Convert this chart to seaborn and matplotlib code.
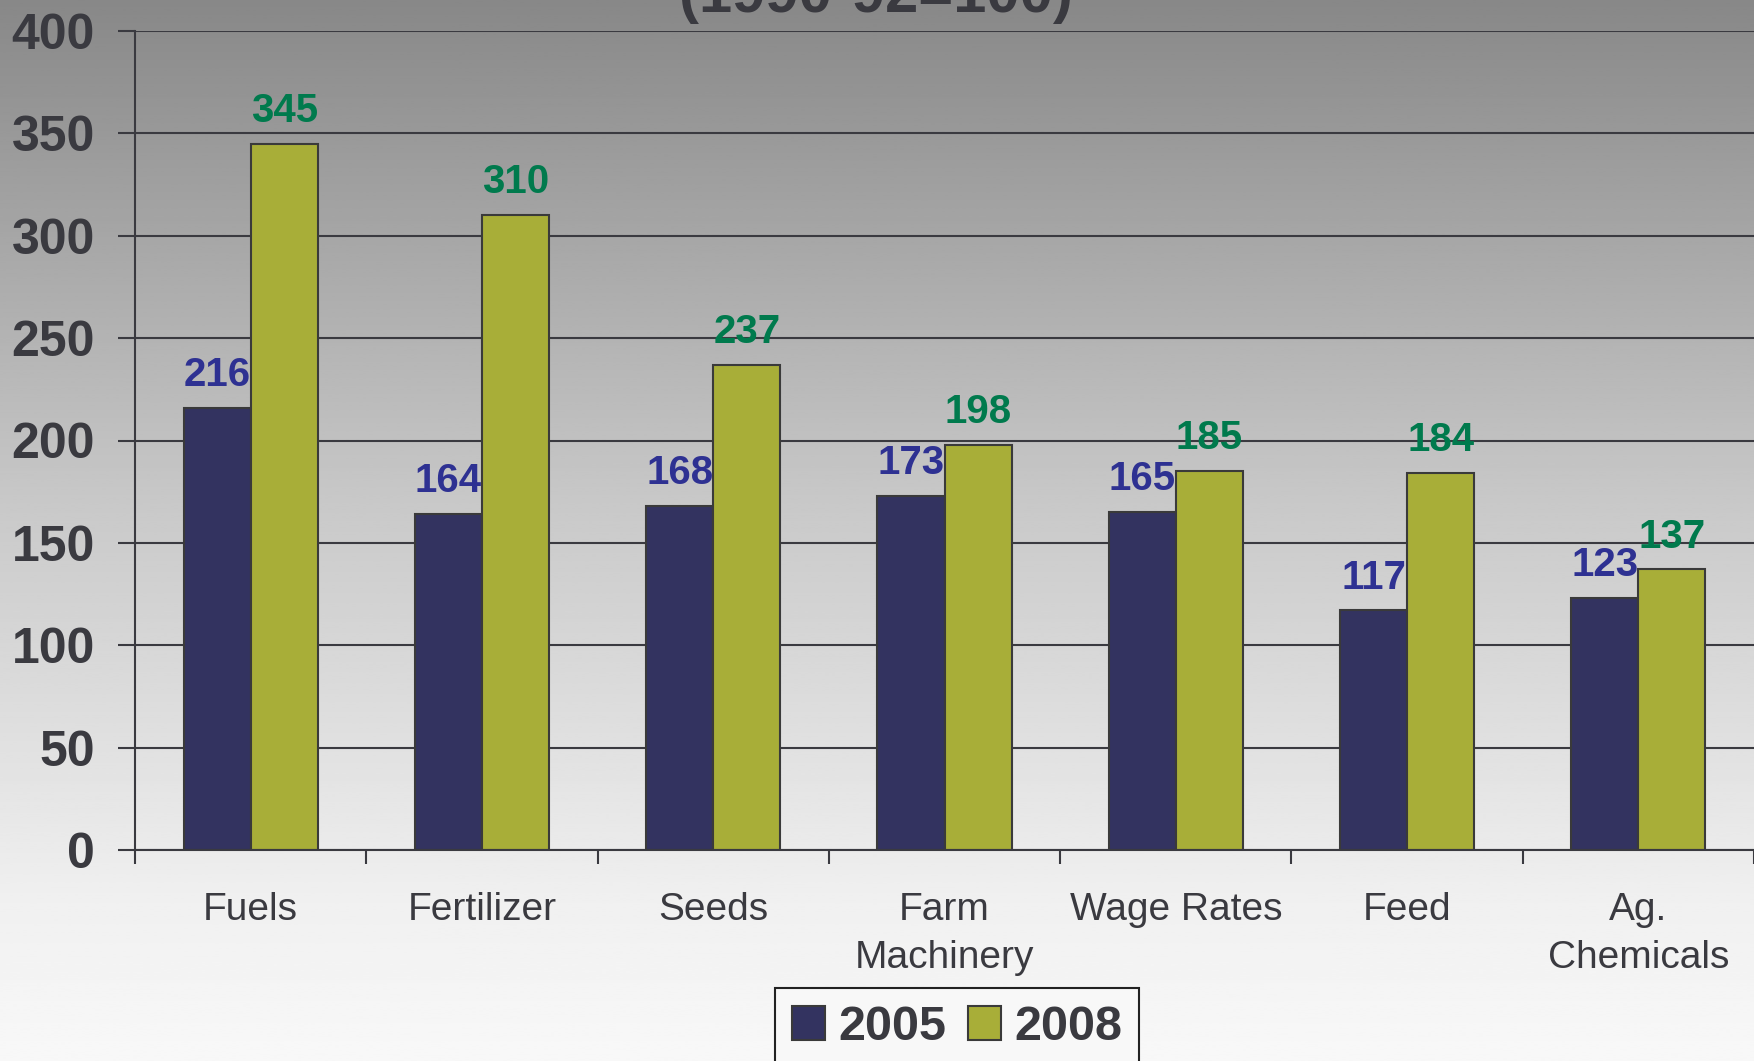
import numpy as np
import pandas as pd
import matplotlib
matplotlib.use("Agg")
import matplotlib.pyplot as plt
import seaborn as sns

categories = ["Fuels", "Fertilizer", "Seeds", "Farm\nMachinery", "Wage Rates", "Feed", "Ag.\nChemicals"]
years = ["2005", "2008"]
values_2005 = [216, 164, 168, 173, 165, 117, 123]
values_2008 = [345, 310, 237, 198, 185, 184, 137]

df = pd.DataFrame({
    "Category": categories * 2,
    "Year": [years[0]] * len(categories) + [years[1]] * len(categories),
    "Index": values_2005 + values_2008,
})

sns.set_style("white")
plt.rcParams["font.family"] = ["Liberation Sans", "DejaVu Sans"]
text_col = "#3a3a40"

fig = plt.figure(figsize=(17.54, 10.61), dpi=100)

# vertical gray gradient background
bg = fig.add_axes([0, 0, 1, 1], zorder=-10)
ys = np.linspace(0, 1, 400)
shade = np.interp(ys, [0, 0.47, 0.85, 1.0], [136, 200, 240, 248]) / 255
bg.imshow(np.repeat(shade[:, None], 2, axis=1), cmap="gray", vmin=0, vmax=1,
          aspect="auto", extent=[0, 1, 1, 0])
bg.axis("off")

ax = fig.add_axes([135 / 1754, 1 - 850 / 1061, 1 - 135 / 1754, (850 - 31) / 1061])
ax.patch.set_alpha(0)

pal = {"2005": "#333360", "2008": "#a8ae38"}
sns.barplot(data=df, x="Category", y="Index", hue="Year", palette=pal, ax=ax,
            width=0.58, gap=0, edgecolor="#3a3a3a", linewidth=1.5, saturation=1)

label_cols = ["#2e3192", "#007a4d"]
for cont, c in zip(ax.containers, label_cols):
    ax.bar_label(cont, fmt="%d", padding=10, color=c, fontsize=29, fontweight="bold")

ax.set_ylim(0, 400)
ax.set_xlim(-0.5, len(categories) - 0.5)
ax.set_yticks(range(0, 401, 50))
ax.yaxis.grid(True, color=text_col, linewidth=1.5)
ax.set_axisbelow(True)
ax.set_xlabel("")
ax.set_ylabel("")
for s in ["top", "right"]:
    ax.spines[s].set_visible(False)
for s in ["left", "bottom"]:
    ax.spines[s].set_color(text_col)
    ax.spines[s].set_linewidth(1.5)

ax.tick_params(axis="y", which="major", length=12, width=1.5, color=text_col, pad=17,
               labelsize=36, labelcolor=text_col, left=True)
for t in ax.get_yticklabels():
    t.set_fontweight("bold")
ax.set_xticks(np.arange(-0.5, len(categories), 1), minor=True)
ax.tick_params(axis="x", which="minor", length=10, width=1.5, color=text_col, direction="out", bottom=True)
ax.tick_params(axis="x", which="major", length=0, pad=30, labelsize=28, labelcolor=text_col)
for t in ax.get_xticklabels():
    t.set_linespacing(1.45)

handles, labels = ax.get_legend_handles_labels()
ax.legend_.remove()
leg = fig.legend(handles, labels, loc="upper center", bbox_to_anchor=(957 / 1754, 1 - 988 / 1061),
                 ncol=2, prop={"weight": "bold", "size": 35}, frameon=True, fancybox=False,
                 handlelength=0.68, handleheight=0.72, handletextpad=0.27, columnspacing=0.45,
                 borderpad=0.35, borderaxespad=0, facecolor="#f8f8f8", edgecolor="#222222", framealpha=1)
leg.get_frame().set_linewidth(1.5)
for t in leg.get_texts():
    t.set_color(text_col)

fig.text(876 / 1754, 1 + 4 / 1061, "(1990-92=100)", ha="center", va="center",
         fontsize=43, fontweight="bold", color=text_col)

fig.savefig("out.png", dpi=100)
